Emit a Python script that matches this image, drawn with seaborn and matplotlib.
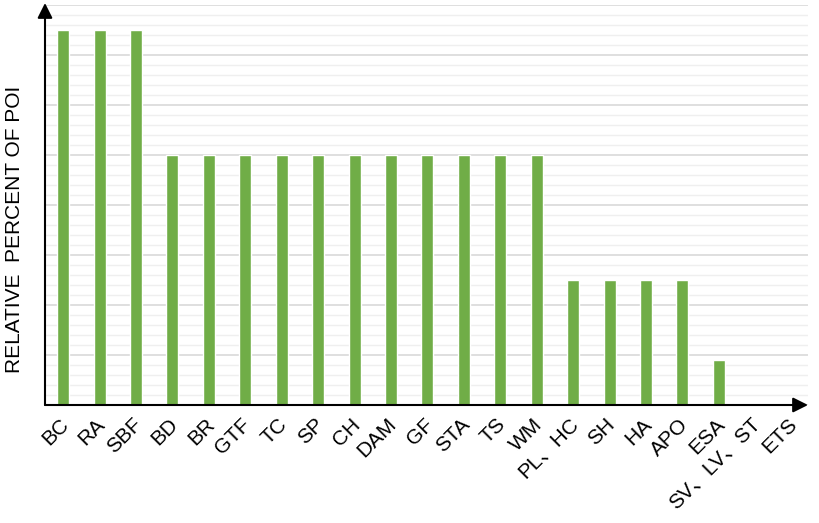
import numpy as np
import pandas as pd
import matplotlib
matplotlib.use("Agg")
import matplotlib.pyplot as plt
import matplotlib.transforms as mtransforms
import seaborn as sns

# categories and relative values
categories = ["BC", "RA", "SBF", "BD", "BR", "GTF", "TC", "SP", "CH", "DAM", "GF",
              "STA", "TS", "WM", "PL、HC", "SH", "HA", "APO", "ESA", "SV、LV、ST", "ETS"]
values = [30, 30, 30, 20, 20, 20, 20, 20, 20, 20, 20,
          20, 20, 20, 10, 10, 10, 10, 3.6, 0, 0]

df = pd.DataFrame({"cat": categories, "val": values})

sns.set_style("white")
plt.rcParams["font.family"] = ["Liberation Sans", "Noto Sans CJK SC", "DejaVu Sans"]
plt.rcParams["text.color"] = "black"
plt.rcParams["axes.labelcolor"] = "black"
plt.rcParams["xtick.color"] = "black"

fig = plt.figure(figsize=(8.2, 5.23), dpi=100)
ax = fig.add_axes([45 / 820, 1 - 405 / 523, (808 - 45) / 820, 400 / 523])

sns.barplot(data=df, x="cat", y="val", color="#70AD47", width=0.33,
            saturation=1, ax=ax, zorder=3)

ax.set_ylim(0, 32)
ax.set_xlim(-0.5, 20.45)
ax.set_yticks(np.arange(0, 33, 4))
ax.set_yticks(np.arange(0, 32.1, 0.8), minor=True)
ax.grid(axis="y", which="major", color="#d9d9d9", linewidth=1.2, zorder=0)
ax.grid(axis="y", which="minor", color="#efefef", linewidth=1.0, zorder=0)
ax.tick_params(axis="y", which="both", left=False, labelleft=False)
ax.tick_params(axis="x", length=0, pad=7)
for s in ax.spines.values():
    s.set_visible(False)

ax.set_xticks(range(len(categories)))
ax.set_xticklabels(categories, rotation=45, ha="right", rotation_mode="anchor",
                   fontsize=15, color="black")
shift = mtransforms.ScaledTranslation(-4 / 100, 0, fig.dpi_scale_trans)
for lbl in ax.get_xticklabels():
    lbl.set_transform(lbl.get_transform() + shift)
ax.set_xlabel("")
ax.set_ylabel("RELATIVE  PERCENT OF POI", fontsize=15, color="black")
ax.yaxis.set_label_coords(-0.027, 0.44)

# axis arrows
arrow = dict(arrowstyle="-|>,head_length=0.9,head_width=0.45", color="black",
             lw=1.5, shrinkA=0, shrinkB=0)
ax.annotate("", xy=(1.0, 0), xytext=(0, 0), xycoords="axes fraction",
            arrowprops=arrow, annotation_clip=False)
ax.annotate("", xy=(0, 1.005), xytext=(0, 0), xycoords="axes fraction",
            arrowprops=arrow, annotation_clip=False)

plt.savefig("out.png", dpi=100)
